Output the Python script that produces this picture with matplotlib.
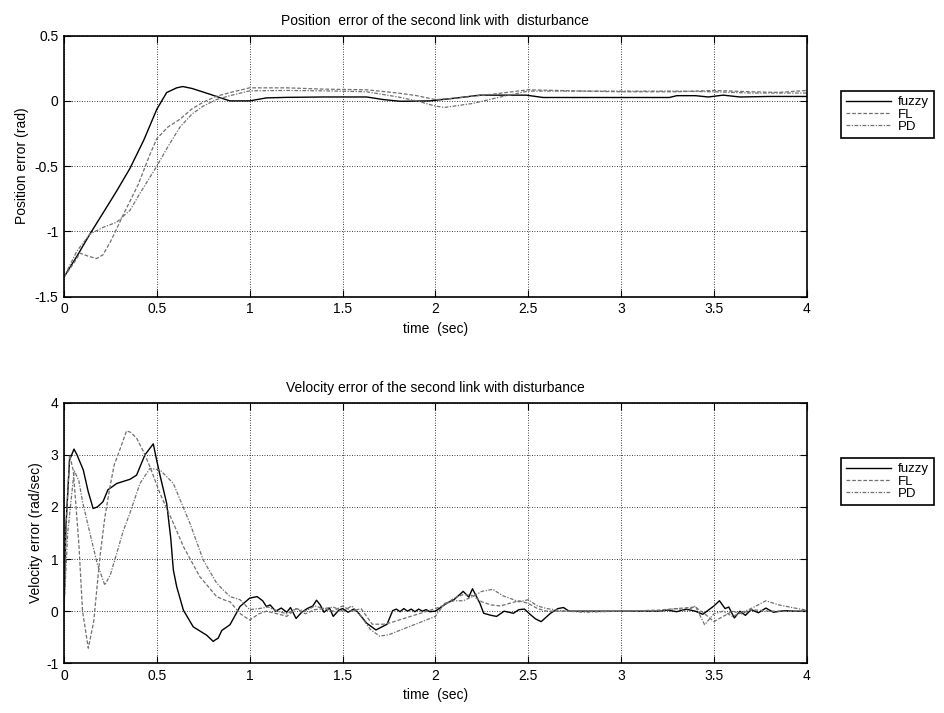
import matplotlib
matplotlib.use("Agg")
import matplotlib.pyplot as plt

plt.rcParams["font.family"] = ["Liberation Sans", "DejaVu Sans"]
plt.rcParams["font.size"] = 10
plt.rcParams["axes.unicode_minus"] = False

# ---- position error (rad) ----
pos_fuzzy_t = [0, 0.07, 0.14, 0.21, 0.284, 0.355, 0.43, 0.5, 0.553, 0.607, 0.64, 0.69,
               0.786, 0.85, 0.894, 1.0, 1.09, 1.2, 1.4, 1.63, 1.72, 1.81, 1.97, 2.1,
               2.24, 2.49, 2.58, 2.8, 3.0, 3.26, 3.3, 3.4, 3.47, 3.55, 3.64, 3.8, 4.0]
pos_fuzzy = [-1.35, -1.19, -1.02, -0.86, -0.69, -0.518, -0.30, -0.064, 0.064, 0.10, 0.11, 0.095,
             0.051, 0.02, 0.0, 0.0, 0.023, 0.027, 0.03, 0.03, 0.01, -0.003, 0.0, 0.02,
             0.044, 0.044, 0.026, 0.026, 0.026, 0.026, 0.04, 0.04, 0.03, 0.044, 0.03, 0.034, 0.034]

pos_fl_t = [0, 0.05, 0.086, 0.13, 0.176, 0.21, 0.25, 0.284, 0.32, 0.355, 0.4, 0.463, 0.5,
            0.56, 0.625, 0.69, 0.75, 0.82, 0.894, 1.0, 1.2, 1.4, 1.63, 1.8, 1.9, 2.0, 2.1,
            2.3, 2.5, 2.8, 3.0, 3.3, 3.5, 3.7, 3.85, 4.0]
pos_fl = [-1.35, -1.25, -1.167, -1.19, -1.208, -1.18, -1.08, -0.98, -0.87, -0.77, -0.64, -0.41, -0.29,
          -0.2, -0.14, -0.06, -0.01, 0.035, 0.064, 0.10, 0.10, 0.09, 0.085, 0.06, 0.04, 0.01, 0.02,
          0.05, 0.085, 0.075, 0.07, 0.07, 0.08, 0.07, 0.065, 0.08]

pos_pd_t = [0, 0.07, 0.14, 0.21, 0.284, 0.33, 0.355, 0.4, 0.463, 0.5, 0.56, 0.625, 0.69,
            0.75, 0.82, 0.894, 1.0, 1.2, 1.4, 1.63, 1.8, 1.9, 2.0, 2.05, 2.2, 2.35, 2.5,
            2.8, 3.0, 3.3, 3.5, 3.7, 4.0]
pos_pd = [-1.35, -1.15, -1.02, -0.97, -0.93, -0.87, -0.84, -0.73, -0.585, -0.5, -0.35, -0.2, -0.1,
          -0.04, 0.01, 0.04, 0.077, 0.08, 0.077, 0.07, 0.03, 0.0, -0.04, -0.05, -0.02, 0.03, 0.075,
          0.075, 0.075, 0.075, 0.07, 0.06, 0.06]

# ---- velocity error (rad/sec) ----
vel_fuzzy_t = [0, 0.01, 0.03, 0.054, 0.07, 0.104, 0.13, 0.157, 0.18, 0.21, 0.237, 0.284,
               0.355, 0.391, 0.436, 0.481, 0.499, 0.517, 0.553, 0.575, 0.589, 0.607, 0.643,
               0.696, 0.768, 0.804, 0.815, 0.83, 0.85, 0.894, 0.948, 1.0, 1.04, 1.07, 1.09,
               1.11, 1.14, 1.17, 1.2, 1.22, 1.25, 1.28, 1.31, 1.34, 1.36, 1.38, 1.40, 1.43,
               1.45, 1.48, 1.5, 1.53, 1.56, 1.58, 1.63, 1.68, 1.74, 1.77, 1.79, 1.81, 1.83,
               1.85, 1.87, 1.89, 1.91, 1.93, 1.95, 1.97, 2.0, 2.06, 2.1, 2.15, 2.18, 2.2,
               2.24, 2.26, 2.3, 2.33, 2.37, 2.42, 2.45, 2.48, 2.51, 2.54, 2.57, 2.62, 2.66,
               2.69, 2.72, 3.2, 3.25, 3.3, 3.35, 3.4, 3.44, 3.47, 3.5, 3.53, 3.56, 3.58,
               3.61, 3.64, 3.67, 3.7, 3.74, 3.78, 3.82, 3.88, 3.94, 4.0]
vel_fuzzy = [0, 1.6, 2.9, 3.11, 3.0, 2.71, 2.3, 1.97, 2.0, 2.1, 2.33, 2.45,
             2.53, 2.61, 3.0, 3.21, 2.9, 2.61, 2.07, 1.4, 0.79, 0.47, 0.02,
             -0.3, -0.46, -0.58, -0.55, -0.52, -0.37, -0.26, 0.09, 0.25, 0.28, 0.2, 0.09,
             0.12, 0.0, 0.06, -0.02, 0.07, -0.14, -0.02, 0.05, 0.1, 0.21, 0.12, -0.02, 0.06,
             -0.1, 0.02, 0.05, -0.02, 0.04, -0.01, -0.23, -0.36, -0.25, 0.01, 0.04, -0.01, 0.05,
             0.0, 0.04, -0.01, 0.04, 0.0, 0.03, -0.01, 0.0, 0.15, 0.22, 0.38, 0.27, 0.43,
             0.15, -0.04, -0.08, -0.1, 0.0, -0.04, 0.03, 0.04, -0.06, -0.15, -0.2, -0.04, 0.05,
             0.07, 0.0, 0.0, 0.02, -0.01, 0.04, 0.0, -0.06, 0.02, 0.1, 0.2, 0.05, 0.08,
             -0.13, 0.0, -0.08, 0.03, -0.03, 0.06, -0.02, 0.01, 0.0, 0.0]

vel_fl_t = [0, 0.01, 0.03, 0.05, 0.08, 0.1, 0.131, 0.16, 0.194, 0.22, 0.248, 0.27, 0.30,
            0.337, 0.36, 0.391, 0.43, 0.463, 0.517, 0.589, 0.643, 0.732, 0.822, 0.86, 0.894,
            0.95, 1.0, 1.05, 1.09, 1.15, 1.2, 1.25, 1.3, 1.35, 1.4, 1.45, 1.5, 1.55, 1.6,
            1.66, 1.72, 1.76, 2.0, 2.05, 2.1, 2.15, 2.2, 2.25, 2.3, 2.35, 2.4, 2.45, 2.5,
            2.55, 2.6, 2.7, 2.8, 3.0, 3.2, 3.3, 3.4, 3.45, 3.5, 3.55, 3.6, 3.65, 3.7, 3.8,
            3.9, 4.0]
vel_fl = [0, 1.5, 3.0, 2.7, 1.3, 0.0, -0.71, -0.2, 1.05, 1.8, 2.39, 2.8, 3.09,
          3.46, 3.43, 3.32, 3.05, 2.77, 2.26, 1.69, 1.24, 0.66, 0.28, 0.22, 0.18,
          -0.05, -0.17, -0.05, 0.0, -0.05, -0.1, 0.05, -0.05, 0.03, 0.05, 0.0, 0.1, 0.0, 0.05,
          -0.25, -0.25, -0.22, 0.05, 0.12, 0.25, 0.32, 0.3, 0.18, 0.12, 0.1, 0.15, 0.2, 0.15,
          0.05, 0.0, 0.0, 0.0, 0.0, 0.02, 0.05, 0.08, -0.05, -0.2, -0.1, 0.0, -0.05, 0.03, 0.0,
          0.0, 0.0]

vel_pd_t = [0, 0.02, 0.055, 0.08, 0.1, 0.14, 0.18, 0.22, 0.25, 0.284, 0.32, 0.355, 0.409,
            0.463, 0.517, 0.589, 0.678, 0.75, 0.822, 0.86, 0.894, 0.948, 1.0, 1.05, 1.1,
            1.15, 1.2, 1.25, 1.3, 1.35, 1.4, 1.45, 1.5, 1.55, 1.6, 1.65, 1.70, 1.75, 2.0,
            2.05, 2.1, 2.15, 2.2, 2.25, 2.31, 2.36, 2.4, 2.45, 2.5, 2.55, 2.6, 2.7, 2.8,
            3.0, 3.2, 3.3, 3.35, 3.4, 3.45, 3.5, 3.55, 3.6, 3.7, 3.78, 3.85, 3.95, 4.0]
vel_pd = [0, 1.5, 2.7, 2.5, 2.1, 1.49, 0.9, 0.5, 0.7, 1.11, 1.55, 1.88, 2.45,
          2.74, 2.71, 2.45, 1.69, 0.98, 0.54, 0.4, 0.28, 0.22, 0.03, 0.05, 0.08,
          0.0, -0.05, 0.05, 0.0, 0.1, 0.05, 0.08, 0.0, 0.1, -0.1, -0.35, -0.48, -0.45, -0.1,
          0.15, 0.2, 0.2, 0.28, 0.38, 0.42, 0.3, 0.25, 0.18, 0.22, 0.1, 0.05, 0.0, -0.02,
          0.0, 0.0, 0.05, 0.0, 0.1, -0.26, -0.05, 0.0, -0.1, 0.05, 0.2, 0.12, 0.05, 0.02]

legend_labels = ["fuzzy", "FL", "PD"]
x_ticks = [0, 0.5, 1, 1.5, 2, 2.5, 3, 3.5, 4]
x_ticklabels = ["0", "0.5", "1", "1.5", "2", "2.5", "3", "3.5", "4"]

fig = plt.figure(figsize=(9.45, 7.13), dpi=100)
ax1 = fig.add_axes([0.0677, 0.584, 0.786, 0.366])
ax2 = fig.add_axes([0.0677, 0.0697, 0.786, 0.3655])

fl_style = (0, (3, 1.5))
pd_style = (0, (3, 1.2, 1, 1.2))
gray = "#707070"


def style_axes(ax):
    ax.set_xlim(0, 4)
    ax.set_xticks(x_ticks)
    ax.set_xticklabels(x_ticklabels)
    ax.grid(True, color="black", linestyle=(0, (1, 2)), linewidth=0.6)
    ax.tick_params(direction="in", top=True, right=True, length=5, width=0.8,
                   labelsize=10, pad=4)
    for s in ax.spines.values():
        s.set_linewidth(1.2)
    ax.set_xlabel("time  (sec)", fontsize=10, labelpad=4)


ax1.plot(pos_fuzzy_t, pos_fuzzy, color="black", linewidth=1.0, label=legend_labels[0])
ax1.plot(pos_fl_t, pos_fl, color=gray, linewidth=0.9, linestyle=fl_style, label=legend_labels[1])
ax1.plot(pos_pd_t, pos_pd, color=gray, linewidth=0.9, linestyle=pd_style, label=legend_labels[2])
style_axes(ax1)
ax1.set_ylim(-1.5, 0.5)
ax1.set_yticks([-1.5, -1, -0.5, 0, 0.5])
ax1.set_yticklabels(["-1.5", "-1", "-0.5", "0", "0.5"])
ax1.set_ylabel("Position error (rad)", fontsize=10)
ax1.set_title("Position  error of the second link with  disturbance", fontsize=10, pad=8)

ax2.plot(vel_fuzzy_t, vel_fuzzy, color="black", linewidth=1.0, label=legend_labels[0])
ax2.plot(vel_fl_t, vel_fl, color=gray, linewidth=0.9, linestyle=fl_style, label=legend_labels[1])
ax2.plot(vel_pd_t, vel_pd, color=gray, linewidth=0.9, linestyle=pd_style, label=legend_labels[2])
style_axes(ax2)
ax2.set_ylim(-1, 4)
ax2.set_yticks([-1, 0, 1, 2, 3, 4])
ax2.set_ylabel("Velocity error (rad/sec)", fontsize=10, labelpad=2)
ax2.set_title("Velocity error of the second link with disturbance", fontsize=10, pad=8)

for ax in (ax1, ax2):
    leg = ax.legend(loc="upper left", bbox_to_anchor=(1.046, 0.788), borderaxespad=0,
                    fancybox=False, edgecolor="black", framealpha=1, fontsize=9.5,
                    handlelength=3.4, handletextpad=0.5, labelspacing=0.0,
                    borderpad=0.4)
    leg.get_frame().set_linewidth(1.2)

fig.savefig("out.png", dpi=100)
